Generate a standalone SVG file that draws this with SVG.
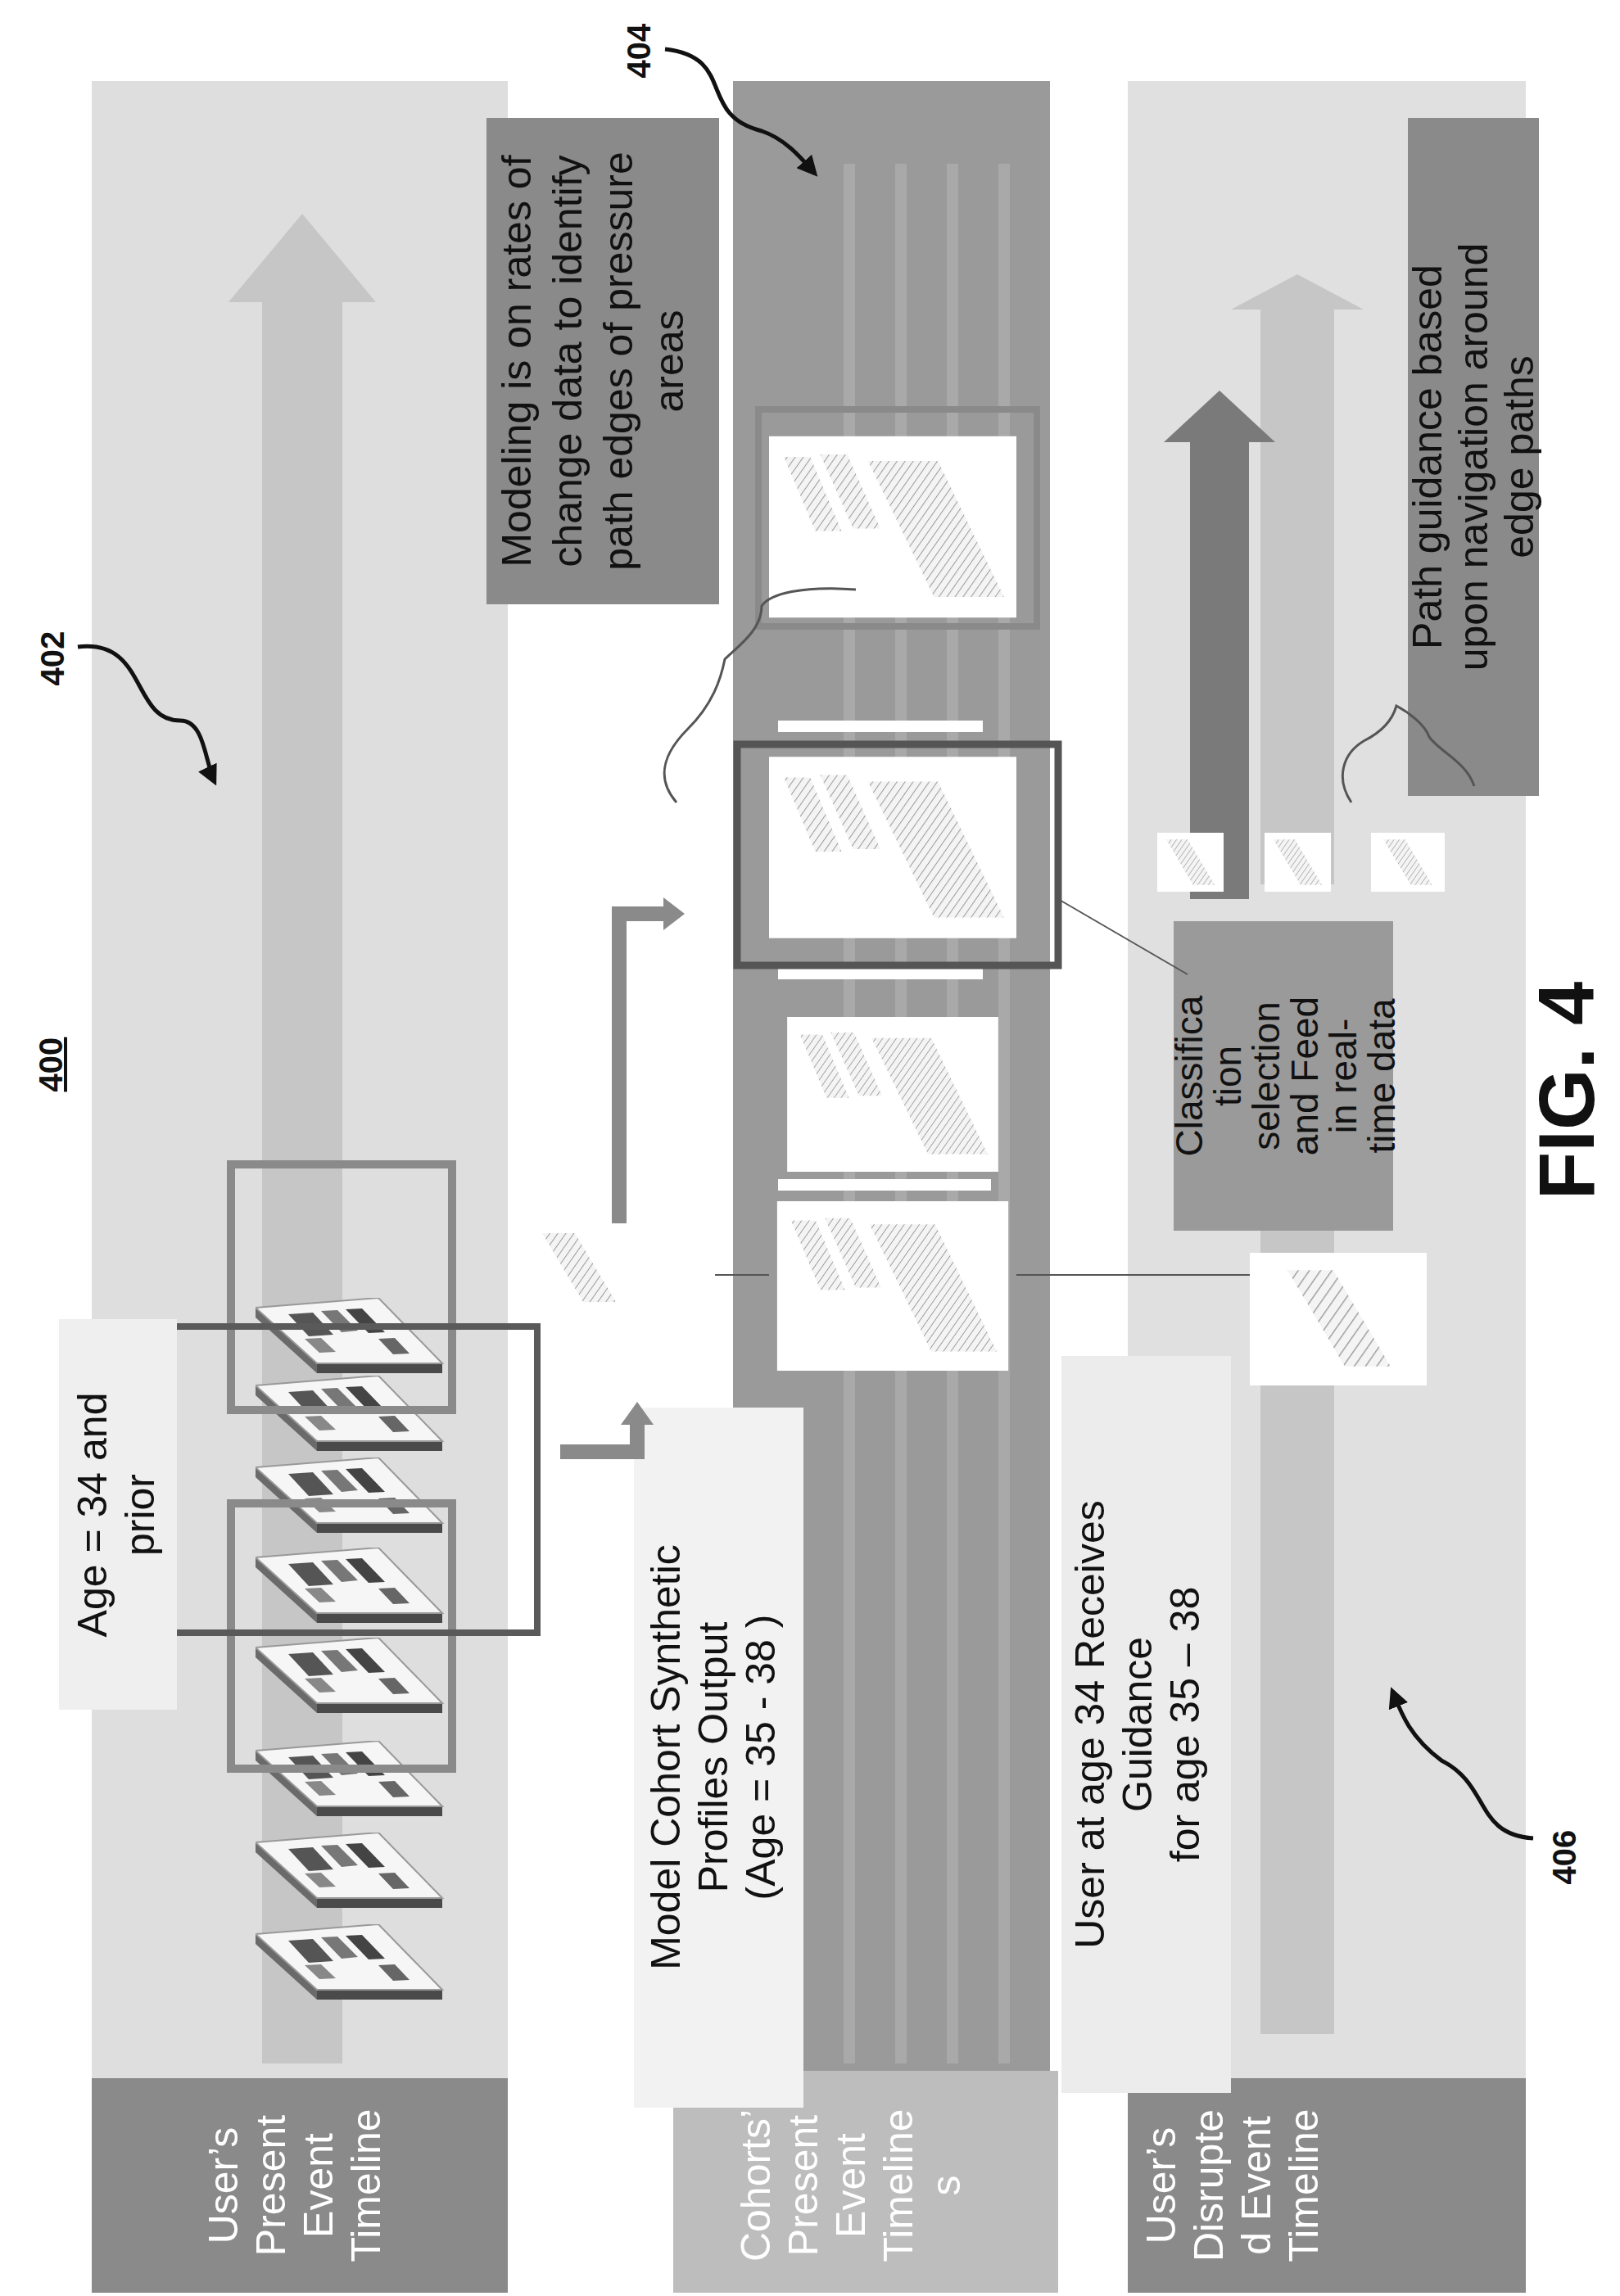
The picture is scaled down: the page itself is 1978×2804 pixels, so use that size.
<svg xmlns="http://www.w3.org/2000/svg" width="1978" height="2804" viewBox="0 0 1978 2804">
<defs>
<style>
.t{font-family:"Liberation Sans",Arial,sans-serif;font-size:50px;text-anchor:middle}
.w{fill:#ffffff}.k{fill:#111}
.ref{font-family:"Liberation Sans",Arial,sans-serif;font-size:40px;font-weight:bold;text-anchor:middle;fill:#111}
.lead{fill:none;stroke:#111;stroke-width:5}
.thin{fill:none;stroke:#555;stroke-width:2}
</style>
<pattern id="hatch" width="8" height="8" patternUnits="userSpaceOnUse" patternTransform="rotate(35)">
<rect width="8" height="8" fill="#f4f4f4"/><line x1="0" y1="0" x2="0" y2="8" stroke="#9a9a9a" stroke-width="2"/>
</pattern>
<marker id="ah" viewBox="0 0 10 10" refX="8" refY="5" markerWidth="5" markerHeight="5" orient="auto"><path d="M0,0 L10,5 L0,10 z" fill="#111"/></marker>
<symbol id="cloud" viewBox="0 0 100 100"><polygon points="5,8 45,8 95,92 55,92" fill="url(#hatch)"/></symbol>
<symbol id="stack" viewBox="0 0 300 220">
<rect width="300" height="220" fill="#fff"/>
<polygon points="18,25 50,25 88,115 56,115" fill="url(#hatch)"/>
<polygon points="62,22 95,22 135,112 102,112" fill="url(#hatch)"/>
<polygon points="120,30 205,30 285,195 200,195" fill="url(#hatch)"/>
</symbol>
<symbol id="slab" viewBox="0 0 230 92">
<polygon points="0,12 75,80 75,92 0,24" fill="#6a6a6a"/>
<polygon points="75,80 228,80 228,92 75,92" fill="#4a4a4a"/>
<polygon points="0,12 150,0 228,80 75,80" fill="#f6f6f6" stroke="#999" stroke-width="2"/>
<polygon points="40,20 70,18 95,45 65,47" fill="#555"/>
<polygon points="80,16 100,15 125,40 105,42" fill="#777"/>
<polygon points="110,14 130,13 158,42 138,43" fill="#444"/>
<polygon points="60,50 80,49 98,66 78,67" fill="#888"/>
<polygon points="150,50 170,49 188,68 168,69" fill="#666"/>
</symbol>
</defs>
<rect width="1978" height="2804" fill="#fff"/>

<g id="band-user-present">
<rect x="112" y="99" width="508" height="2700" fill="#dedede"/>
<polygon points="320,2520 320,369 279,369 369,261 459,369 418,369 418,2520" fill="#c6c6c6"/>
</g>
<g id="band-cohorts">
<rect x="895" y="99" width="387" height="2440" fill="#9a9a9a"/>
<rect x="1030" y="200" width="14" height="2320" fill="#a9a9a9"/>
<rect x="1093" y="200" width="14" height="2320" fill="#a9a9a9"/>
<rect x="1156" y="200" width="14" height="2320" fill="#a9a9a9"/>
<rect x="1219" y="200" width="14" height="2320" fill="#a9a9a9"/>
</g>
<g id="band-user-disrupted">
<rect x="1377" y="99" width="486" height="2440" fill="#e0e0e0"/>
<polygon points="1539,2484 1539,1503 1503,1503 1584,1449 1665,1503 1629,1503 1629,2484" fill="#c6c6c6"/>
<polygon points="1539,1080 1539,378 1503,378 1584,335 1665,378 1629,378 1629,1080" fill="#c6c6c6"/>
<polygon points="1453,1098 1453,540 1421,540 1489,477 1557,540 1525,540 1525,1098" fill="#7a7a7a"/>
</g>

<g id="label-user-present">
<rect x="112" y="2538" width="508" height="262" fill="#8a8a8a"/>
<text class="t w" transform="translate(290,2669) rotate(-90)"><tspan x="0" dy="0">User’s</tspan><tspan x="0" dy="58">Present</tspan><tspan x="0" dy="58">Event</tspan><tspan x="0" dy="58">Timeline</tspan></text>
</g>
<g id="label-cohorts">
<rect x="822" y="2529" width="470" height="271" fill="#bdbdbd"/>
<text class="t w" transform="translate(940,2669) rotate(-90)"><tspan x="0" dy="0">Cohorts’</tspan><tspan x="0" dy="58">Present</tspan><tspan x="0" dy="58">Event</tspan><tspan x="0" dy="58">Timeline</tspan><tspan x="0" dy="58">s</tspan></text>
</g>
<g id="label-user-disrupted">
<rect x="1377" y="2538" width="486" height="262" fill="#8a8a8a"/>
<text class="t w" transform="translate(1435,2669) rotate(-90)"><tspan x="0" dy="0">User’s</tspan><tspan x="0" dy="58">Disrupte</tspan><tspan x="0" dy="58">d Event</tspan><tspan x="0" dy="58">Timeline</tspan></text>
</g>

<g id="user-slabs">
<use href="#slab" x="312" y="2350" width="230" height="92"/>
<use href="#slab" x="312" y="2238" width="230" height="92"/>
<use href="#slab" x="312" y="2126" width="230" height="92"/>
<use href="#slab" x="312" y="2000" width="230" height="92"/>
<use href="#slab" x="312" y="1890" width="230" height="92"/>
<use href="#slab" x="312" y="1780" width="230" height="92"/>
<use href="#slab" x="312" y="1680" width="230" height="92"/>
<use href="#slab" x="312" y="1585" width="230" height="92"/>
<rect x="282" y="1422" width="270" height="300" fill="none" stroke="#8a8a8a" stroke-width="10"/>
<rect x="282" y="1836" width="270" height="324" fill="none" stroke="#8a8a8a" stroke-width="10"/>
<rect x="210" y="1620" width="446" height="374" fill="none" stroke="#5a5a5a" stroke-width="8"/>
</g>

<g id="age-box">
<rect x="72" y="1611" width="144" height="477" fill="#efefef"/>
<text class="t k" transform="translate(130,1850) rotate(-90)"><tspan x="0" dy="0">Age = 34 and</tspan><tspan x="0" dy="58">prior</tspan></text>
</g>

<g id="modeling-box">
<rect x="594" y="144" width="284" height="594" fill="#8a8a8a"/>
<text class="t k" transform="translate(648,441) rotate(-90)"><tspan x="0" dy="0">Modeling is on rates of</tspan><tspan x="0" dy="62">change data to identify</tspan><tspan x="0" dy="62">path edges of pressure</tspan><tspan x="0" dy="62">areas</tspan></text>
</g>

<g id="model-cohort-box">
<rect x="774" y="1719" width="207" height="855" fill="#f2f2f2"/>
<text class="t k" transform="translate(830,2146) rotate(-90)"><tspan x="0" dy="0">Model Cohort Synthetic</tspan><tspan x="0" dy="58">Profiles Output</tspan><tspan x="0" dy="58">(Age = 35 - 38 )</tspan></text>
</g>

<g id="guidance-box">
<rect x="1296" y="1656" width="207" height="900" fill="#ececec"/>
<text class="t k" transform="translate(1348,2106) rotate(-90)"><tspan x="0" dy="0">User at age 34 Receives</tspan><tspan x="0" dy="58">Guidance</tspan><tspan x="0" dy="58">for age 35 – 38</tspan></text>
</g>

<g id="path-guidance-box">
<rect x="1719" y="144" width="160" height="828" fill="#8a8a8a"/>
<text class="t k" transform="translate(1760,558) rotate(-90)"><tspan x="0" dy="0">Path guidance based</tspan><tspan x="0" dy="56">upon navigation around</tspan><tspan x="0" dy="56">edge paths</tspan></text>
</g>

<g id="classification-box">
<rect x="1433" y="1125" width="268" height="378" fill="#9a9a9a"/>
<text class="t k" style="font-size:46px" transform="translate(1468,1314) rotate(-90)"><tspan x="0" dy="0">Classifica</tspan><tspan x="0" dy="47">tion</tspan><tspan x="0" dy="47">selection</tspan><tspan x="0" dy="47">and Feed</tspan><tspan x="0" dy="47">in real-</tspan><tspan x="0" dy="47">time data</tspan></text>
</g>

<g id="cohort-cards">
<rect x="926" y="500" width="340" height="265" fill="none" stroke="#8a8a8a" stroke-width="8"/>
<rect x="950" y="560" width="220" height="14" fill="#fff"/>
<use href="#stack" x="939" y="531" width="302" height="225"/>
<rect x="950" y="880" width="250" height="14" fill="#fff"/>
<use href="#stack" x="939" y="918" width="302" height="234"/>
<rect x="950" y="1180" width="250" height="16" fill="#fff"/>
<use href="#stack" x="939" y="1242" width="302" height="189"/>
<rect x="950" y="1440" width="260" height="14" fill="#fff"/>
<use href="#stack" x="939" y="1467" width="302" height="207"/>
<rect x="900" y="909" width="392" height="270" fill="none" stroke="#555" stroke-width="9"/>
</g>

<g id="loose-images">
<use href="#cloud" x="657" y="1494" width="100" height="108"/>
<rect x="1413" y="1017" width="81" height="72" fill="#fff"/><use href="#cloud" x="1416" y="1020" width="75" height="66"/>
<rect x="1544" y="1017" width="81" height="72" fill="#fff"/><use href="#cloud" x="1547" y="1020" width="75" height="66"/>
<rect x="1674" y="1017" width="90" height="72" fill="#fff"/><use href="#cloud" x="1680" y="1020" width="78" height="66"/>
<rect x="1526" y="1530" width="216" height="162" fill="#fff"/><use href="#cloud" x="1545" y="1540" width="180" height="140"/>
</g>

<g id="connectors">
<path d="M684,1773 H778 V1740" fill="none" stroke="#8a8a8a" stroke-width="18"/>
<polygon points="758,1740 798,1740 778,1712" fill="#8a8a8a"/>
<path d="M756,1494 V1116 H810" fill="none" stroke="#8a8a8a" stroke-width="18"/>
<polygon points="810,1096 810,1136 836,1116" fill="#8a8a8a"/>
<line class="thin" x1="873" y1="1557" x2="939" y2="1557"/>
<line class="thin" x1="1241" y1="1557" x2="1526" y2="1557"/>
<line class="thin" x1="1292" y1="1098" x2="1450" y2="1190"/>
<path d="M826,980 C800,950 810,920 840,890 C870,860 880,830 885,805 C900,790 930,770 930,740 C940,725 980,715 1045,720" fill="none" stroke="#555" stroke-width="3"/>
<path d="M1650,980 C1630,950 1640,920 1665,905 C1685,895 1700,880 1705,862 C1720,870 1740,885 1745,900 C1760,920 1790,930 1800,960" fill="none" stroke="#555" stroke-width="3"/>
<path class="lead" d="M95,790 C180,780 160,880 220,880 C250,880 250,930 262,955" marker-end="url(#ah)"/>
<path class="lead" d="M812,60 C900,70 850,140 930,160 C960,170 980,195 995,212" marker-end="url(#ah)"/>
<path class="lead" d="M1872,2245 C1800,2240 1820,2180 1760,2150 C1720,2120 1710,2090 1700,2065" marker-end="url(#ah)"/>
</g>

<g id="ref-labels">
<text class="ref" transform="translate(78,804) rotate(-90)">402</text>
<text class="ref" transform="translate(794,62) rotate(-90)">404</text>
<text class="ref" transform="translate(1924,2268) rotate(-90)">406</text>
<text class="ref" transform="translate(76,1300) rotate(-90)" style="text-decoration:underline">400</text>
<text transform="translate(1946,1332) rotate(-90)" style="font-family:'Liberation Sans',Arial,sans-serif;font-size:96px;font-weight:bold;text-anchor:middle;fill:#111">FIG. 4</text>
</g>
</svg>
